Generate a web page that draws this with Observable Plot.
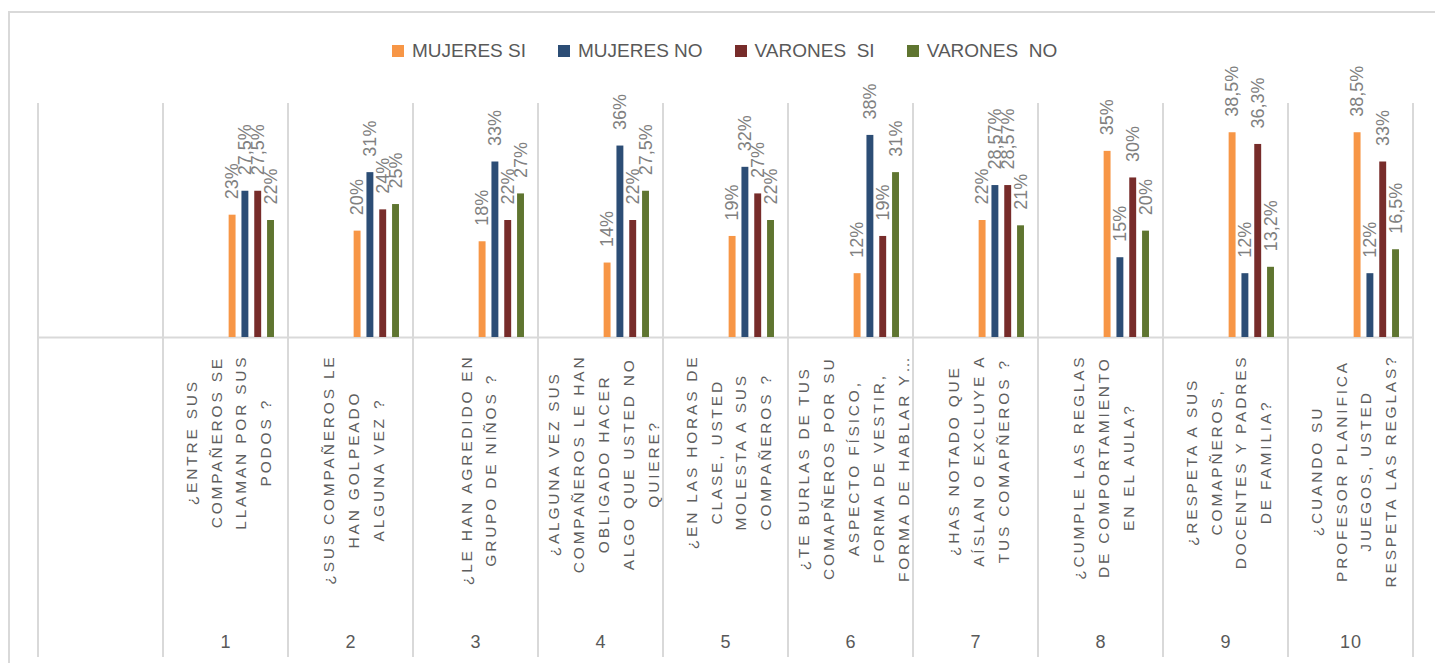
<!DOCTYPE html>
<html>
<head>
<meta charset="utf-8">
<script src="https://cdn.jsdelivr.net/npm/d3@7"></script>
<script src="https://cdn.jsdelivr.net/npm/@observablehq/plot@0.6"></script>
<style>
  html, body { margin: 0; padding: 0; background: #fff; overflow: hidden; }
  #wrap { position: relative; width: 1435px; height: 663px; overflow: hidden; font-family: "Liberation Sans", Arial, sans-serif; }
  #border { position: absolute; left: 8px; top: 11px; width: 1500px; height: 800px; border: 2px solid #d9d9d9; box-sizing: border-box; }
  #legend { position: absolute; left: 392px; top: 40px; height: 22px; display: flex; align-items: center; white-space: pre; z-index: 2; }
  .item { display: flex; align-items: center; margin-right: 32px; font-size: 19px; color: #595959; }
  .sw { width: 12px; height: 12px; margin-right: 8px; }
  #chart { position: absolute; left: 0; top: 60px; }
</style>
</head>
<body>
<div id="wrap">
  <div id="border"></div>
  <div id="legend"></div>
  <div id="chart"></div>
</div>
<script>
// ---- data ----
const questionNumbers = ["1", "2", "3", "4", "5", "6", "7", "8", "9", "10"];
const questions = [
  "¿ENTRE SUS\nCOMPAÑEROS SE\nLLAMAN POR SUS\nPODOS ?",
  "¿SUS COMPAÑEROS LE\nHAN GOLPEADO\nALGUNA VEZ ?",
  "¿LE HAN AGREDIDO EN\nGRUPO DE NIÑOS ?",
  "¿ALGUNA VEZ SUS\nCOMPAÑEROS LE HAN\nOBLIGADO HACER\nALGO QUE USTED NO\nQUIERE?",
  "¿EN LAS HORAS DE\nCLASE, USTED\nMOLESTA A SUS\nCOMPAÑEROS ?",
  "¿TE BURLAS DE TUS\nCOMAPÑEROS POR SU\nASPECTO FÍSICO,\nFORMA DE VESTIR,\nFORMA DE HABLAR Y…",
  "¿HAS NOTADO QUE\nAÍSLAN O EXCLUYE A\nTUS COMAPÑEROS ?",
  "¿CUMPLE LAS REGLAS\nDE COMPORTAMIENTO\nEN EL AULA?",
  "¿RESPETA A SUS\nCOMAPÑEROS,\nDOCENTES Y PADRES\nDE FAMILIA?",
  "¿CUANDO SU\nPROFESOR PLANIFICA\nJUEGOS, USTED\nRESPETA LAS REGLAS?"
];
const seriesNames = ["MUJERES SI", "MUJERES NO", "VARONES  SI", "VARONES  NO"];
const seriesColors = ["#F79646", "#2C4D75", "#772C2A", "#5F7530"];
const mujeresSi = [23, 20, 18, 14, 19, 12, 22, 35, 38.5, 38.5];
const mujeresNo = [27.5, 31, 33, 36, 32, 38, 28.57, 15, 12, 12];
const varonesSi = [27.5, 24, 22, 22, 27, 19, 28.57, 30, 36.3, 33];
const varonesNo = [22, 25, 27, 27.5, 22, 31, 21, 20, 13.2, 16.5];

// ---- table ----
const seriesValues = [mujeresSi, mujeresNo, varonesSi, varonesNo];
const rows = [];
questionNumbers.forEach((q, i) => {
  seriesNames.forEach((s, k) => rows.push({q, series: s, value: seriesValues[k][i]}));
});
const columns = [""].concat(questionNumbers);   // first column is empty
const qrows = questionNumbers.map((q, i) => ({q, text: questions[i]}));
const fmt = v => String(v).replace(".", ",") + "%";

// ---- legend ----
const legend = document.getElementById("legend");
seriesNames.forEach((s, k) => {
  const it = document.createElement("div");
  it.className = "item";
  const sw = document.createElement("div");
  sw.className = "sw";
  sw.style.background = seriesColors[k];
  const lb = document.createElement("span");
  lb.textContent = s;
  it.append(sw, lb);
  legend.append(it);
});

// ---- layout ----
const W = 1435, H = 603, mL = 38, mR = 22, mT = 43, mB = 6;
const baseline = 277;
const colW = (W - mL - mR) / columns.length;
const frameH = H - mT - mB;
const gridColor = "#d9d9d9";

const chart = Plot.plot({
  width: W,
  height: H,
  marginLeft: mL,
  marginRight: mR,
  marginTop: mT,
  marginBottom: mB,
  style: {fontFamily: "'Liberation Sans', Arial, sans-serif", background: "transparent", overflow: "visible"},
  fx: {domain: columns, padding: 0, axis: null},
  x: {domain: seriesNames, paddingInner: 0.46, paddingOuter: 3.11, align: 0.824, round: false, axis: null},
  y: {domain: [0, 44], range: [baseline, mT], axis: null},
  color: {domain: seriesNames, range: seriesColors},
  marks: [
    Plot.rect(columns, {
      fx: d => d, stroke: gridColor, strokeWidth: 2, fill: "none",
      strokeDasharray: `0 ${colW} ${frameH} ${colW} ${frameH}`
    }),
    Plot.ruleY([0], {stroke: gridColor, strokeWidth: 2}),
    Plot.barY(rows, {fx: "q", x: "series", y: "value", fill: "series"}),
    Plot.text(rows, {
      fx: "q", x: "series", y: "value", text: d => fmt(d.value),
      rotate: -90, textAnchor: "start", lineAnchor: "middle", dy: -16,
      fill: "#808080", fontSize: 18
    }),
    Plot.text(qrows, {
      fx: "q", text: "text", frameAnchor: "top", rotate: -90,
      textAnchor: "middle", lineAnchor: "middle", lineHeight: 1.6,
      fill: "#5e5e5e", fontSize: 15.5
    }),
    Plot.text(qrows, {
      fx: "q", text: "q", frameAnchor: "bottom", lineAnchor: "middle", dy: -15,
      fill: "#595959", fontSize: 18
    })
  ]
});
document.getElementById("chart").append(chart);

// top-align the wrapped question labels (lines centred on each other)
const labelTop = 294;
chart.querySelectorAll("text").forEach(t => {
  if (!t.textContent.startsWith("¿")) return;
  t.setAttribute("letter-spacing", "2.8");
  const w = t.getBBox().width;
  const tr = t.getAttribute("transform") || "";
  const m = /translate\(\s*([-\d.e]+)\s*,\s*([-\d.e]+)\s*\)/.exec(tr);
  if (m) t.setAttribute("transform", tr.replace(m[0], `translate(${m[1]},${labelTop + w / 2})`));
});
chart.querySelectorAll("text").forEach(t => {
  if (/^\d+$/.test(t.textContent)) t.setAttribute("letter-spacing", "1");
});
</script>
</body>
</html>
